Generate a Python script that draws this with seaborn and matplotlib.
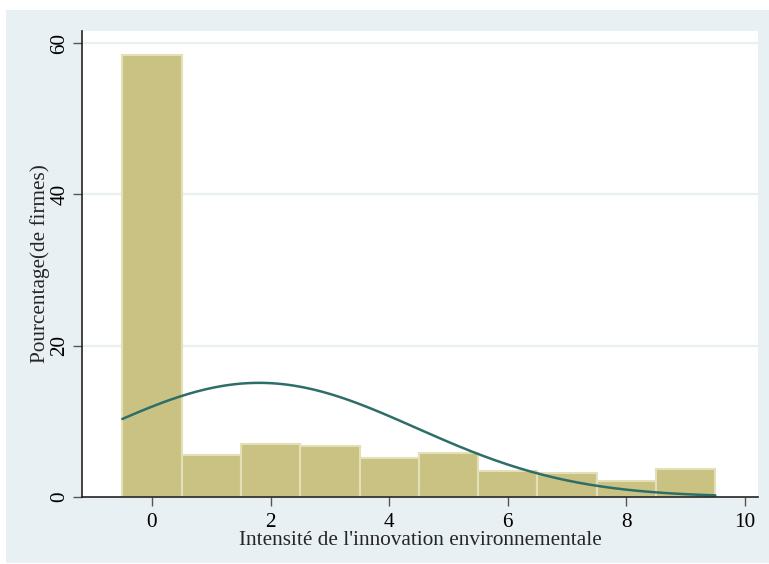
import numpy as np
import pandas as pd
import matplotlib
matplotlib.use("Agg")
import matplotlib.pyplot as plt
import seaborn as sns

sns.set_theme(style="white")
plt.rcParams["font.family"] = ["Liberation Serif", "DejaVu Serif"]
plt.rcParams["text.color"] = "black"
plt.rcParams["xtick.color"] = "black"
plt.rcParams["ytick.color"] = "black"

# Share of firms (%) by environmental innovation intensity score
scores = [0, 1, 2, 3, 4, 5, 6, 7, 8, 9]
pct_firms = [58.4, 5.5, 6.95, 6.8, 5.2, 5.8, 3.4, 3.2, 2.1, 3.7]
y_ticks = [0, 20, 40, 60]
x_ticks = [0, 2, 4, 6, 8, 10]

df = pd.DataFrame({"score": scores, "pct": pct_firms})

# Normal density overlay (Stata "normal" option) fitted on the histogram
w = df["pct"] / df["pct"].sum()
mu = (df["score"] * w).sum()
sd = np.sqrt(((df["score"] - mu) ** 2 * w).sum())
xs = np.linspace(-0.5, 9.5, 200)
curve = pd.DataFrame({"x": xs,
                      "y": 100 / (sd * np.sqrt(2 * np.pi)) * np.exp(-0.5 * ((xs - mu) / sd) ** 2)})

bg = "#e8f0f3"
fig = plt.figure(figsize=(7.69, 5.64), dpi=100, facecolor="white")
fig.patches.append(plt.Rectangle((6 / 769, 1 / 564), 1, 553 / 564, transform=fig.transFigure,
                                 facecolor=bg, edgecolor="none", zorder=-10))
ax = fig.add_axes([82 / 769, 67 / 564, 676 / 769, 466 / 564])
ax.set_facecolor("white")

sns.histplot(data=df, x="score", weights="pct", binwidth=1, binrange=(-0.5, 9.5),
             color="#c9c283", edgecolor="#e3e0b8", linewidth=1.5, alpha=1, ax=ax)
sns.lineplot(data=curve, x="x", y="y", color="#2e6e68", linewidth=1.8, ax=ax)

for yv in y_ticks[1:]:
    ax.axhline(yv, color=bg, linewidth=1.6, zorder=0)

ax.set_xlim(-1.18, 10.22)
ax.set_ylim(0, 61.6)
ax.set_xticks(x_ticks)
ax.set_yticks(y_ticks)
ax.set_yticklabels([str(v) for v in y_ticks], rotation=90, va="center")
ax.tick_params(axis="both", bottom=True, left=True, direction="out", length=6.5, width=1,
               color="#555555", labelcolor="black", labelsize=15.3)
ax.tick_params(axis="x", pad=5)
ax.tick_params(axis="y", pad=2.5)

for s in ["top", "right"]:
    ax.spines[s].set_visible(False)
for s in ["left", "bottom"]:
    ax.spines[s].set_color("#222222")
    ax.spines[s].set_linewidth(1.2)

ax.set_xlabel("Intensité de l'innovation environnementale", fontsize=15.3, labelpad=-1)
ax.set_ylabel("Pourcentage(de firmes)", fontsize=15.3, labelpad=0)

fig.savefig("out.png", dpi=100, facecolor="white")
